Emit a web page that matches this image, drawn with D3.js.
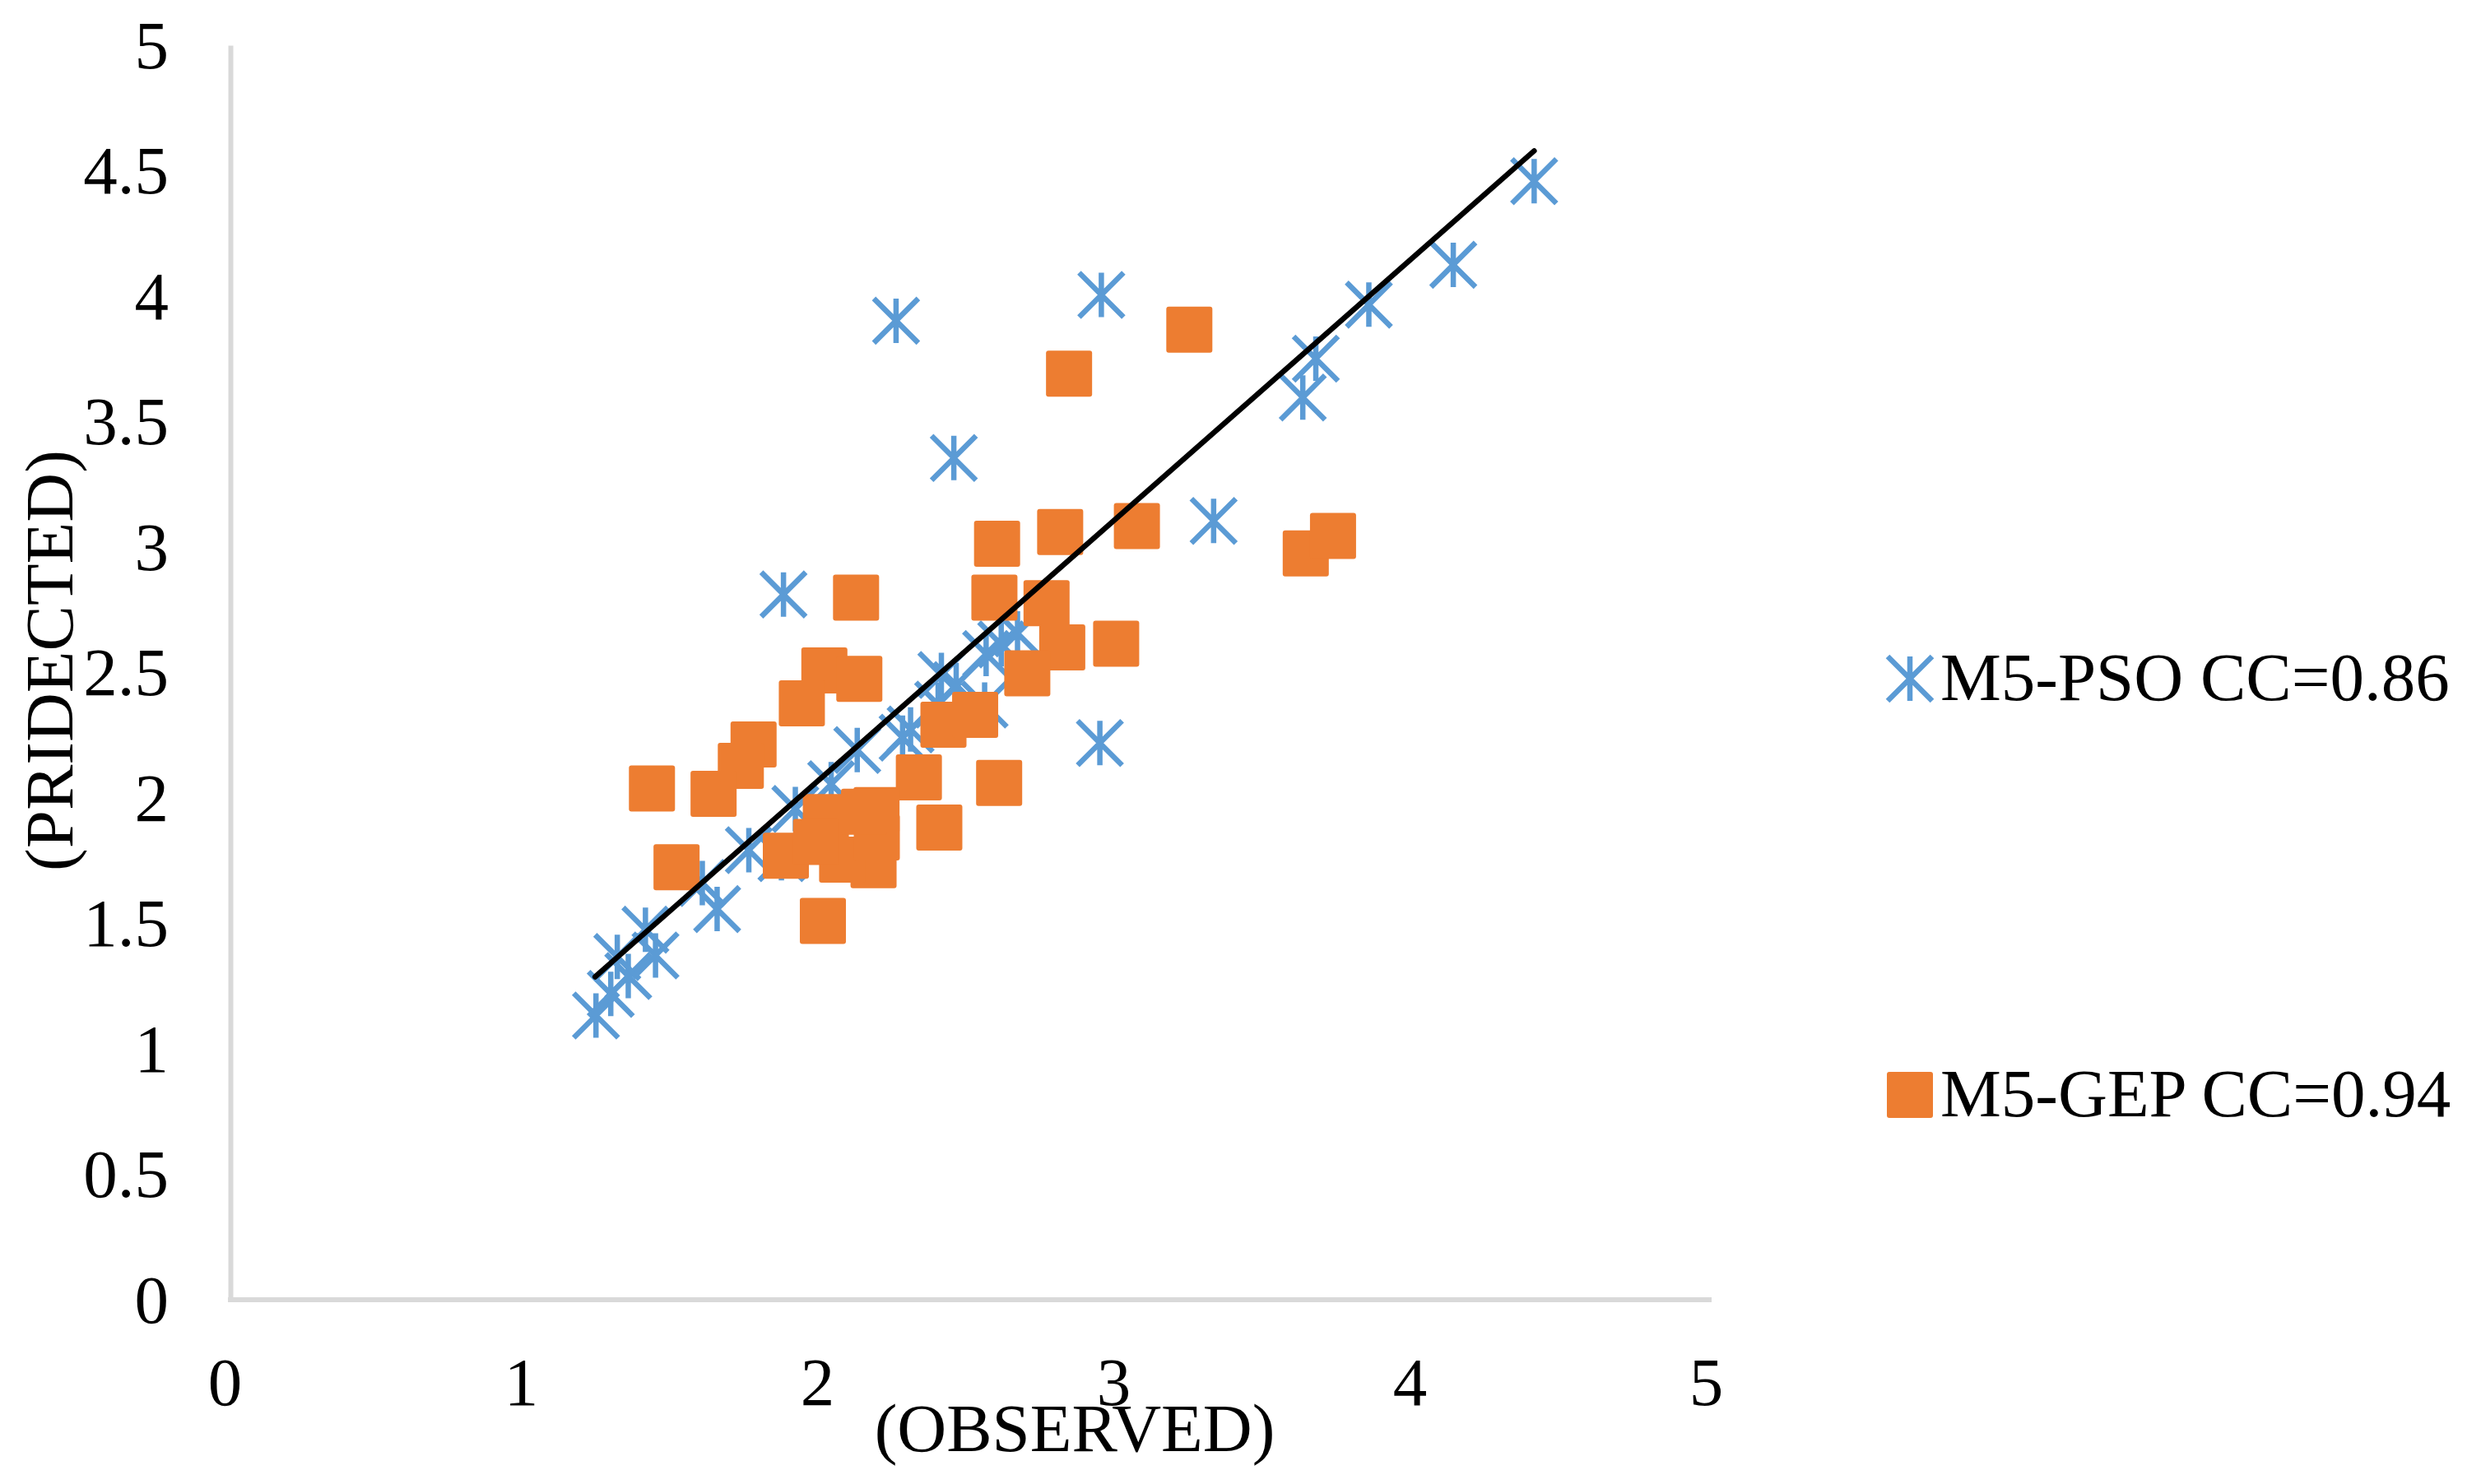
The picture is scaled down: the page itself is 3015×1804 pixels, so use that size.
<!DOCTYPE html>
<html>
<head>
<meta charset="utf-8">
<script src="https://cdn.jsdelivr.net/npm/d3@7"></script>
<style>
  body { margin: 0; background: #fff; }
  svg { display: block; }
</style>
</head>
<body>
<svg width="3015" height="1804"></svg>
<script>
// Series values: [observed, predicted]
let psoPoints = [
  [1.234, 1.133], [1.284, 1.219], [1.343, 1.290], [1.306, 1.366], [1.435, 1.372],
  [1.401, 1.475], [1.643, 1.557], [1.593, 1.661], [1.750, 1.792], [1.860, 1.760],
  [1.907, 1.956], [2.028, 2.055], [2.116, 2.191], [2.296, 2.273], [2.269, 2.240],
  [2.389, 2.372], [2.546, 2.372], [2.400, 2.490], [2.450, 2.450], [2.551, 2.574],
  [2.602, 2.612], [2.657, 2.656], [2.935, 2.219], [1.867, 2.811], [2.442, 3.355],
  [2.247, 3.902], [2.940, 4.005], [3.319, 3.104], [3.620, 3.596], [3.664, 3.751],
  [3.843, 3.966], [4.128, 4.125], [4.401, 4.458]
];

let gepPoints = [
  [3.237, 3.866], [2.831, 3.691], [2.588, 3.013], [2.801, 3.060], [3.060, 3.084],
  [2.579, 2.798], [2.755, 2.776], [3.630, 2.975], [3.722, 3.044], [2.808, 2.600],
  [2.990, 2.615], [2.112, 2.798], [2.005, 2.508], [2.123, 2.475], [1.929, 2.377],
  [1.766, 2.213], [1.723, 2.128], [2.690, 2.497], [2.407, 2.292], [2.514, 2.331],
  [2.324, 2.082], [2.595, 2.060], [2.393, 1.882], [2.000, 1.510], [1.875, 1.770],
  [2.010, 1.924], [2.181, 1.952], [2.171, 1.732], [2.065, 1.754], [2.182, 1.843],
  [1.977, 1.825], [2.139, 1.945], [1.506, 1.724], [1.423, 2.038], [1.631, 2.016]
];

// Fitted line end points
let trendLine = [[1.231, 1.287], [4.401, 4.579]];

let xTicks = [0, 1, 2, 3, 4, 5];
let yTicks = [0, 0.5, 1, 1.5, 2, 2.5, 3, 3.5, 4, 4.5, 5];
let seriesNames = ["M5-PSO CC=0.86", "M5-GEP CC=0.94"];

let blue = "#5B9BD5";
let orange = "#ED7D31";
let font = "'Liberation Serif', 'Times New Roman', serif";

// Plot area
let margin = {top: 55, left: 280};
let width = 1800;
let height = 1525;

let x = d3.scaleLinear().domain([0, 5]).range([0, width]);
let y = d3.scaleLinear().domain([0, 5]).range([height, 0]);

let svg = d3.select("svg");
let g = svg.append("g")
    .attr("transform", "translate(" + margin.left + "," + margin.top + ")");

// X axis
let xAxis = g.append("g")
    .attr("transform", "translate(0," + height + ")")
    .call(d3.axisBottom(x).tickValues(xTicks).tickSize(0).tickFormat(d3.format("~g")));

// Y axis
let yAxis = g.append("g")
    .call(d3.axisLeft(y).tickValues(yTicks).tickSize(0).tickFormat(d3.format("~g")));

[xAxis, yAxis].forEach(function(a) {
  a.select(".domain")
      .attr("stroke", "#D9D9D9")
      .attr("stroke-width", 6);
  a.selectAll("text")
      .attr("fill", "#000")
      .style("font-family", font)
      .style("font-size", "83px");
});

xAxis.select(".domain").attr("d", "M-3,0H" + width);
xAxis.selectAll("text").attr("y", 128).attr("dy", 0).attr("dx", -7);
yAxis.selectAll("text").attr("x", -75).attr("dy", "0.33em");

// Axis titles
svg.append("text")
    .attr("x", 1306)
    .attr("y", 1764)
    .attr("text-anchor", "middle")
    .style("font-family", font)
    .style("font-size", "83px")
    .text("(OBSERVED)");

svg.append("text")
    .attr("transform", "translate(88,803) rotate(-90)")
    .attr("text-anchor", "middle")
    .style("font-family", font)
    .style("font-size", "83px")
    .text("(PRIDECTED)");

// Excel style star marker: vertical bar plus two diagonals
function starPath(r) {
  return "M0," + (-r) + "V" + r +
         "M" + (-r) + "," + (-r) + "L" + r + "," + r +
         "M" + (-r) + "," + r + "L" + r + "," + (-r);
}

let markerHalf = 27;

// M5-PSO points
g.selectAll(".pso")
    .data(psoPoints)
    .enter()
    .append("path")
    .attr("class", "pso")
    .attr("transform", function(d) { return "translate(" + x(d[0]) + "," + y(d[1]) + ")"; })
    .attr("d", starPath(markerHalf))
    .attr("fill", "none")
    .attr("stroke", blue)
    .attr("stroke-width", 6.5);

// M5-GEP points
g.selectAll(".gep")
    .data(gepPoints)
    .enter()
    .append("rect")
    .attr("class", "gep")
    .attr("x", function(d) { return x(d[0]) - 28; })
    .attr("y", function(d) { return y(d[1]) - 28; })
    .attr("width", 56)
    .attr("height", 56)
    .attr("rx", 3)
    .attr("fill", orange);

// Trend line
let line = d3.line()
    .x(function(d) { return x(d[0]); })
    .y(function(d) { return y(d[1]); });

g.append("path")
    .datum(trendLine)
    .attr("d", line)
    .attr("fill", "none")
    .attr("stroke", "#000")
    .attr("stroke-width", 6.5)
    .attr("stroke-linecap", "round");

// Legend
let legend = svg.append("g").attr("transform", "translate(2321,0)");

legend.append("path")
    .attr("transform", "translate(0,825)")
    .attr("d", starPath(markerHalf))
    .attr("fill", "none")
    .attr("stroke", blue)
    .attr("stroke-width", 6.5);

legend.append("rect")
    .attr("x", -28)
    .attr("y", 1331 - 28)
    .attr("width", 56)
    .attr("height", 56)
    .attr("rx", 3)
    .attr("fill", orange);

legend.selectAll(".label")
    .data(seriesNames)
    .enter()
    .append("text")
    .attr("class", "label")
    .attr("x", 37)
    .attr("y", function(d, i) { return i === 0 ? 851 : 1357; })
    .style("font-family", font)
    .style("font-size", "83px")
    .text(function(d) { return d; });
</script>
</body>
</html>
